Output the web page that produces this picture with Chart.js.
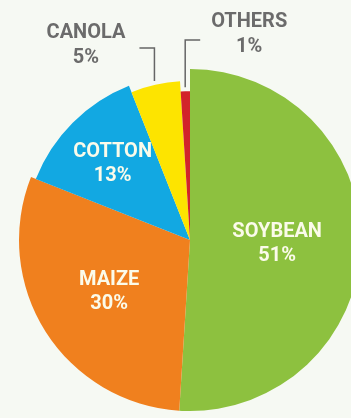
<!DOCTYPE html>
<html lang="en">
<head>
  <meta charset="UTF-8">
  <title>Crop share</title>
  <script src="https://cdn.jsdelivr.net/npm/chart.js"></script>
  <style>
    * { margin: 0; padding: 0; box-sizing: border-box; }
    body { background: #f6f9f3; width: 351px; height: 418px; overflow: hidden; }
    .wrap { position: relative; width: 380px; height: 418px; }
  </style>
</head>
<body>
  <div class="wrap"><canvas id="cropChart"></canvas></div>

  <script>
    const crops = ['SOYBEAN', 'MAIZE', 'COTTON', 'CANOLA', 'OTHERS'];
    const shares = [51, 30, 13, 5, 1];
    const colours = ['#8dc13f', '#f0801e', '#12a8e2', '#fde400', '#d2232a'];

    // how far each slice reaches out, relative to the full radius
    const reach = [1, 1, 0.97, 0.93, 0.87];
    // where the inside labels sit, as a fraction of the radius
    const labelReach = [0.51, 0.56, 0.66];

    const FONT = 'bold 20px Roboto, sans-serif';

    const sliceReach = {
      id: 'sliceReach',
      afterDatasetsUpdate(chart) {
        const meta = chart.getDatasetMeta(0);
        const base = meta.controller.outerRadius;
        meta.data.forEach((arc, i) => { arc.outerRadius = base * reach[i]; });
      }
    };

    const sliceLabels = {
      id: 'sliceLabels',
      afterDatasetsDraw(chart) {
        const ctx = chart.ctx;
        const arcs = chart.getDatasetMeta(0).data;
        ctx.save();
        ctx.font = FONT;
        ctx.textAlign = 'center';
        ctx.textBaseline = 'middle';

        arcs.forEach((arc, i) => {
          const mid = (arc.startAngle + arc.endAngle) / 2;
          const pct = shares[i] + '%';

          if (i < labelReach.length) {
            const r = arc.outerRadius * labelReach[i];
            const x = arc.x + Math.cos(mid) * r;
            const y = arc.y + Math.sin(mid) * r;
            ctx.fillStyle = '#fbfbea';
            ctx.fillText(crops[i], x, y - 11);
            ctx.fillText(pct, x, y + 13);
            return;
          }

          // small slices: leader line up from the slice, label beside it
          const r = arc.outerRadius + 4;
          const ax = arc.x + Math.cos(mid) * r;
          const ay = arc.y + Math.sin(mid) * r;
          const toLeft = crops[i] === 'CANOLA';
          const elbowY = toLeft ? 48 : 40;
          const endX = toLeft ? ax - 15 : ax + 15;

          ctx.strokeStyle = '#666';
          ctx.lineWidth = 1.5;
          ctx.beginPath();
          ctx.moveTo(ax, ay);
          ctx.lineTo(ax, elbowY);
          ctx.lineTo(endX, elbowY);
          ctx.stroke();

          const w = ctx.measureText(crops[i]).width;
          const tx = toLeft ? endX - 14 - w / 2 : endX + 11 + w / 2;
          const ty = toLeft ? 33 : 22;
          ctx.fillStyle = '#6b6b6b';
          ctx.fillText(crops[i], tx, ty);
          ctx.fillText(pct, tx, ty + 25);
        });
        ctx.restore();
      }
    };

    new Chart(document.getElementById('cropChart'), {
      type: 'pie',
      data: {
        labels: crops,
        datasets: [{
          data: shares,
          backgroundColor: colours,
          borderWidth: 0
        }]
      },
      options: {
        responsive: true,
        maintainAspectRatio: false,
        animation: false,
        layout: { padding: { top: 69, bottom: 7, left: 19, right: 19 } },
        plugins: {
          legend: { display: false },
          tooltip: { enabled: false }
        }
      },
      plugins: [sliceReach, sliceLabels]
    });
  </script>
</body>
</html>
